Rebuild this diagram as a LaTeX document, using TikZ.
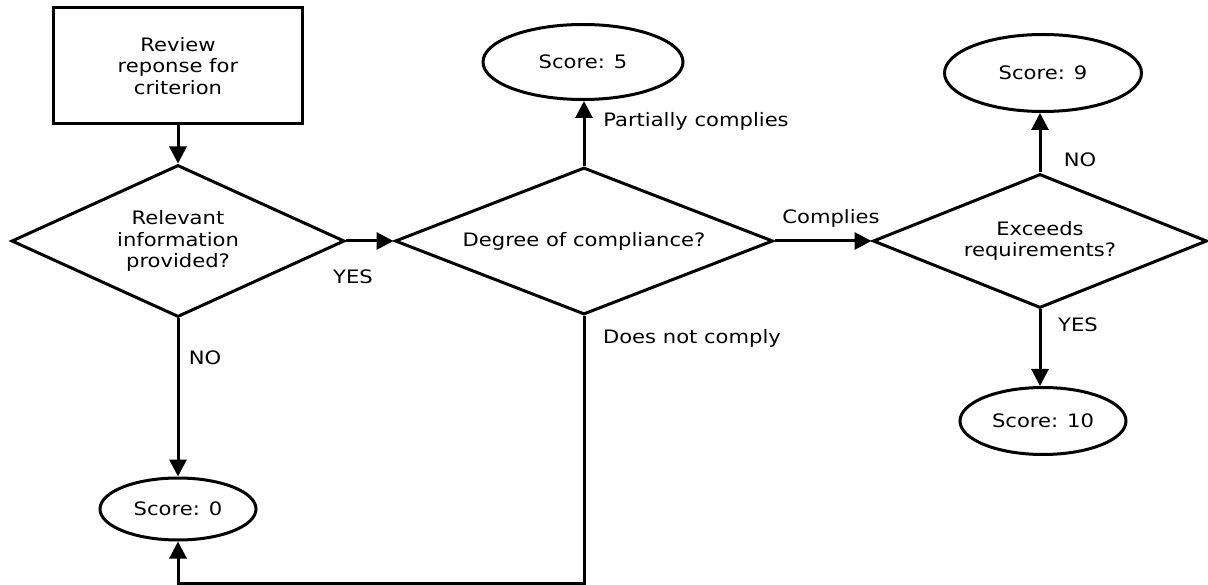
\documentclass[tikz,border=0pt]{standalone}
\usepackage{fontspec}
\setmainfont{DejaVu Sans}[FakeStretch=1.14]
\usetikzlibrary{shapes.geometric,arrows.meta}
\begin{document}
\begin{tikzpicture}[x=1pt,y=-1pt,
  every node/.style={font=\fontsize{18.5}{21.5}\selectfont, inner sep=0pt},
  shp/.style={draw, line width=3pt, align=center},
  boxnode/.style={shp, rectangle, minimum width=249pt, minimum height=116pt},
  dec/.style={shp, diamond},
  term/.style={shp, ellipse},
  arr/.style={line width=3pt, -{Triangle[length=17pt,width=17pt]}},
  lbl/.style={}
]
\useasboundingbox (0,0) rectangle (1208,585);

\node[boxnode] (review) at (178,66) {Review\\reponse for\\criterion};
\node[dec, aspect=2.19, minimum width=333pt, minimum height=152pt] (rel) at (178,241) {Relevant\\information\\provided?};
\node[dec, aspect=2.57, minimum width=378pt, minimum height=147pt] (deg) at (584,241) {Degree of compliance?};
\node[dec, aspect=2.49, minimum width=334pt, minimum height=134pt] (exc) at (1040,241) {Exceeds\\requirements?};

\node[term, minimum width=200pt, minimum height=75pt] (s5) at (583,62) {Score: 5};
\node[term, minimum width=197pt, minimum height=77pt] (s9) at (1043,73) {Score: 9};
\node[term, minimum width=166pt, minimum height=67pt] (s10) at (1043,421) {Score: 10};
\node[term, minimum width=156pt, minimum height=62pt] (s0) at (178,509) {Score: 0};

\coordinate (bot) at (0,583);

\draw[arr] (review) -- (rel);
\draw[arr] (rel.east) -- (deg.west);
\draw[arr] (rel.south) -- (s0.north);
\draw[arr] (deg.north) -- (deg.north |- s5.south);
\draw[arr] (deg.east) -- (exc.west);
\draw[arr] (exc.north) -- (exc.north |- s9.south);
\draw[arr] (exc.south) -- (exc.south |- s10.north);
\draw[arr] (deg.south) -- (deg.south |- bot) -| (s0.south);

\node[lbl] (lyes1) at (353,277) {YES};
\node[lbl] (lno1) at (205,358) {NO};
\node[lbl] (lpart) at (696,121) {Partially complies};
\node[lbl] (lcomp) at (831,218) {Complies};
\node[lbl] (lnot) at (692,338) {Does not comply};
\node[lbl] (lno2) at (1080,160) {NO};
\node[lbl] (lyes2) at (1078,325) {YES};
\end{tikzpicture}
\end{document}
